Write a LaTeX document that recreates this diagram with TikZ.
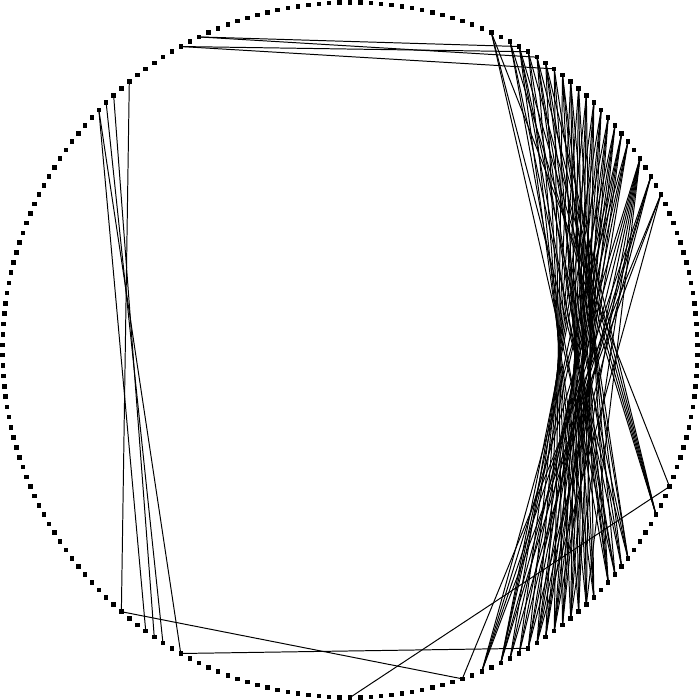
\documentclass[tikz,border=0pt]{standalone}
\usepackage{tikz}
\tikzset{
  vertex/.style={rectangle, fill=black, inner sep=0pt, minimum size=0.045cm},
  chord/.style={draw=black, line width=0.28pt},
}
\begin{document}
\begin{tikzpicture}
  \useasboundingbox (-3.5,-3.5) rectangle (3.5,3.5);
  \foreach \i in {0,...,209} { \node[vertex] (v\i) at ({90-\i*12/7}:3.475) {}; }
  \foreach \a/\b in {14/66,14/74,14/76, 16/69,16/75,16/77, 17/69,17/74,17/76,17/79,
                     18/69,18/76,18/80, 19/69,19/75,19/77,19/81, 20/69,20/74,20/77,20/82,
                     21/74,21/79,21/83, 22/75,22/77,22/80,22/84, 23/76,23/79,23/81,23/85,
                     24/77,24/80,24/82,24/86, 25/79,25/81,25/83,25/87, 26/80,26/82,26/84,26/88,
                     27/81,27/83,27/85,27/89, 28/82,28/84,28/86,28/90, 29/83,29/85,29/87,29/90,
                     30/84,30/86,30/88,30/90, 31/85,31/87,31/89,31/92,
                     33/80,33/82,33/84,33/86,33/88,33/90,33/92, 35/87,35/89,35/90,35/92,
                     37/86,37/92,37/94,
                     105/66, 129/94, 122/87, 187/129, 183/122, 183/126, 184/124, 185/125,
                     195/17, 195/19, 193/18, 193/21}
    { \draw[chord] (v\a.center) -- (v\b.center); }
\end{tikzpicture}
\end{document}
